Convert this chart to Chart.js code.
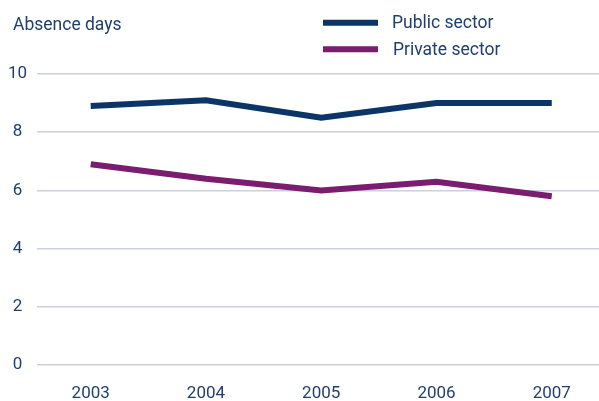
<!DOCTYPE html>
<html>
<head>
<meta charset="utf-8">
<script src="https://cdn.jsdelivr.net/npm/chart.js@4/dist/chart.umd.min.js"></script>
<style>
  html, body { margin: 0; padding: 0; background: #ffffff; }
  #wrap { width: 599px; height: 401px; position: relative; }
</style>
</head>
<body>
<div id="wrap"><canvas id="chart"></canvas></div>
<script>
const years = [2003, 2004, 2005, 2006, 2007];
const publicSector = [8.9, 9.1, 8.5, 9.0, 9.0];
const privateSector = [6.9, 6.4, 6.0, 6.3, 5.8];
const yTicks = [0, 2, 4, 6, 8, 10];

const textColor = "#1f3f6e";
const gridColor = "#c9d1dd";
const fontFamily = "Roboto, 'Noto Sans', sans-serif";

// title top-left and a stacked legend top-right
const headerPlugin = {
    id: "header",
    afterDraw(chart) {
        const ctx = chart.ctx;
        ctx.save();
        ctx.fillStyle = textColor;
        ctx.textBaseline = "alphabetic";
        ctx.textAlign = "left";
        ctx.font = "17.5px " + fontFamily;
        ctx.fillText("Absence days", 13, 30);

        const rows = [{ y: 22.7, base: 27.5 }, { y: 49.3, base: 54.5 }];
        chart.data.datasets.forEach((ds, i) => {
            const row = rows[i];
            ctx.strokeStyle = ds.borderColor;
            ctx.lineWidth = 6;
            ctx.lineCap = "butt";
            ctx.beginPath();
            ctx.moveTo(323, row.y);
            ctx.lineTo(378, row.y);
            ctx.stroke();
            ctx.fillStyle = textColor;
            ctx.fillText(ds.label, 392 + i, row.base);
        });
        ctx.restore();
    }
};

const ctx = document.getElementById("chart").getContext("2d");
new Chart(ctx, {
    type: "line",
    data: {
        datasets: [
            {
                label: "Public sector",
                data: years.map((x, i) => ({ x, y: publicSector[i] })),
                borderColor: "#0b3567",
                borderWidth: 6,
                pointRadius: 0,
                tension: 0,
                fill: false
            },
            {
                label: "Private sector",
                data: years.map((x, i) => ({ x, y: privateSector[i] })),
                borderColor: "#7a1c6f",
                borderWidth: 6,
                pointRadius: 0,
                tension: 0,
                fill: false
            }
        ]
    },
    options: {
        responsive: true,
        maintainAspectRatio: false,
        animation: false,
        layout: { padding: { top: 74, right: 0, bottom: 0, left: 0 } },
        plugins: {
            legend: { display: false },
            tooltip: { enabled: false }
        },
        scales: {
            x: {
                type: "linear",
                min: 2002.534,
                max: 2007.41,
                grid: { display: false },
                border: { display: false },
                afterBuildTicks: (scale) => {
                    scale.ticks = years.map((v) => ({ value: v }));
                },
                afterFit: (scale) => { scale.height = 36; },
                ticks: {
                    color: textColor,
                    font: { family: fontFamily, size: 17 },
                    padding: 11,
                    maxRotation: 0,
                    callback: (v) => String(v)
                }
            },
            y: {
                min: 0,
                max: 10,
                grid: { color: gridColor, lineWidth: 1.5, drawTicks: false },
                border: { display: false },
                afterBuildTicks: (scale) => {
                    scale.ticks = yTicks.map((v) => ({ value: v }));
                },
                afterFit: (scale) => { scale.width = 37; },
                ticks: {
                    color: textColor,
                    font: { family: fontFamily, size: 17 },
                    padding: 10,
                    crossAlign: "center"
                }
            }
        }
    },
    plugins: [headerPlugin]
});
</script>
</body>
</html>
